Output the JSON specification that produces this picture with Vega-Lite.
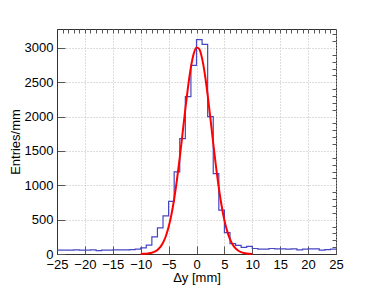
{
  "$schema": "https://vega.github.io/schema/vega-lite/v6.json",
  "width": 279,
  "height": 225,
  "autosize": "none",
  "padding": {"left": 57, "top": 29, "right": 38, "bottom": 36},
  "background": "white",
  "config": {
    "view": {"stroke": "#333", "strokeWidth": 1}
  },
  "datasets": {
    "hist": [
      {"x": -25, "n": 55}, {"x": -24, "n": 55}, {"x": -23, "n": 55}, {"x": -22, "n": 60}, {"x": -21, "n": 55},
      {"x": -20, "n": 55}, {"x": -19, "n": 60}, {"x": -18, "n": 50}, {"x": -17, "n": 55}, {"x": -16, "n": 55},
      {"x": -15, "n": 60}, {"x": -14, "n": 60}, {"x": -13, "n": 60}, {"x": -12, "n": 65}, {"x": -11, "n": 70},
      {"x": -10, "n": 90}, {"x": -9, "n": 130}, {"x": -8, "n": 250}, {"x": -7, "n": 380}, {"x": -6, "n": 555},
      {"x": -5, "n": 765}, {"x": -4, "n": 1195}, {"x": -3, "n": 1680}, {"x": -2, "n": 2290}, {"x": -1, "n": 2745},
      {"x": 0, "n": 3120}, {"x": 1, "n": 3050}, {"x": 2, "n": 2000}, {"x": 3, "n": 1170}, {"x": 4, "n": 640},
      {"x": 5, "n": 310}, {"x": 6, "n": 150}, {"x": 7, "n": 125}, {"x": 8, "n": 95}, {"x": 9, "n": 110},
      {"x": 10, "n": 80}, {"x": 11, "n": 70}, {"x": 12, "n": 70}, {"x": 13, "n": 80}, {"x": 14, "n": 75},
      {"x": 15, "n": 75}, {"x": 16, "n": 70}, {"x": 17, "n": 75}, {"x": 18, "n": 60}, {"x": 19, "n": 70},
      {"x": 20, "n": 75}, {"x": 21, "n": 75}, {"x": 22, "n": 55}, {"x": 23, "n": 65}, {"x": 24, "n": 70},
      {"x": 25, "n": 70}
    ],
    "fit": [
      {"x": -10, "f": 1.1}, {"x": -9.5, "f": 2.3}, {"x": -9, "f": 4.8}, {"x": -8.5, "f": 9.5}, {"x": -8, "f": 18.2},
      {"x": -7.5, "f": 33.4}, {"x": -7, "f": 59.1}, {"x": -6.5, "f": 100.4}, {"x": -6, "f": 164.3}, {"x": -5.5, "f": 258.5},
      {"x": -5, "f": 391.7}, {"x": -4.5, "f": 570.7}, {"x": -4, "f": 800.7}, {"x": -3.5, "f": 1081}, {"x": -3, "f": 1403},
      {"x": -2.5, "f": 1754}, {"x": -2, "f": 2110}, {"x": -1.5, "f": 2441}, {"x": -1, "f": 2719}, {"x": -0.5, "f": 2914},
      {"x": 0, "f": 3005}, {"x": 0.5, "f": 2982}, {"x": 1, "f": 2847}, {"x": 1.5, "f": 2616}, {"x": 2, "f": 2314},
      {"x": 2.5, "f": 1969}, {"x": 3, "f": 1612}, {"x": 3.5, "f": 1270}, {"x": 4, "f": 963}, {"x": 4.5, "f": 702.5},
      {"x": 5, "f": 493}, {"x": 5.5, "f": 333}, {"x": 6, "f": 216.6}, {"x": 6.5, "f": 135.5}, {"x": 7, "f": 81.6},
      {"x": 7.5, "f": 47.3}, {"x": 8, "f": 26.4}, {"x": 8.5, "f": 14.1}, {"x": 9, "f": 7.3}, {"x": 9.5, "f": 3.6},
      {"x": 10, "f": 1.7}
    ]
  },
  "resolve": {"axis": {"x": "independent", "y": "independent"}},
  "layer": [
    {
      "data": {"name": "hist"},
      "mark": {"type": "line", "interpolate": "step-after", "color": "#4646c4", "strokeWidth": 1.2, "clip": true},
      "encoding": {
        "x": {"field": "x", "type": "quantitative", "scale": {"domain": [-25, 25], "nice": false, "zero": false},
          "axis": {"title": "Δy [mm]", "values": [-25, -20, -15, -10, -5, 0, 5, 10, 15, 20, 25], "format": "d",
            "tickSize": -8, "tickColor": "#555", "labelPadding": 12, "grid": true, "gridDash": [1, 2], "gridColor": "#bbb",
            "domainColor": "#333", "labelFont": "Liberation Sans", "labelFontSize": 13, "labelColor": "#000", "labelFlush": false,
            "titleFont": "Liberation Sans", "titleFontSize": 13, "titleFontWeight": "normal", "titleColor": "#000", "titlePadding": 0}},
        "y": {"field": "n", "type": "quantitative", "scale": {"domain": [0, 3275], "nice": false},
          "axis": {"title": "Entries/mm", "values": [0, 500, 1000, 1500, 2000, 2500, 3000], "format": "d",
            "tickSize": -8, "tickColor": "#555", "labelPadding": 12, "grid": true, "gridDash": [1, 2], "gridColor": "#bbb",
            "domainColor": "#333", "labelFont": "Liberation Sans", "labelFontSize": 13, "labelColor": "#000",
            "titleFont": "Liberation Sans", "titleFontSize": 13, "titleFontWeight": "normal", "titleColor": "#000", "titlePadding": 2}}
      }
    },
    {
      "data": {"name": "fit"},
      "mark": {"type": "line", "color": "#ff0000", "strokeWidth": 2, "interpolate": "monotone"},
      "encoding": {
        "x": {"field": "x", "type": "quantitative",
          "axis": {"title": null, "values": [-25,-24,-23,-22,-21,-20,-19,-18,-17,-16,-15,-14,-13,-12,-11,-10,-9,-8,-7,-6,-5,-4,-3,-2,-1,0,1,2,3,4,5,6,7,8,9,10,11,12,13,14,15,16,17,18,19,20,21,22,23,24,25], "tickSize": -4, "tickColor": "#555", "labels": false, "grid": false, "domain": false}},
        "y": {"field": "f", "type": "quantitative",
          "axis": {"title": null, "values": [100,200,300,400,600,700,800,900,1100,1200,1300,1400,1600,1700,1800,1900,2100,2200,2300,2400,2600,2700,2800,2900,3100,3200], "tickSize": -4, "tickColor": "#555", "labels": false, "grid": false, "domain": false}}
      }
    }
  ]
}
